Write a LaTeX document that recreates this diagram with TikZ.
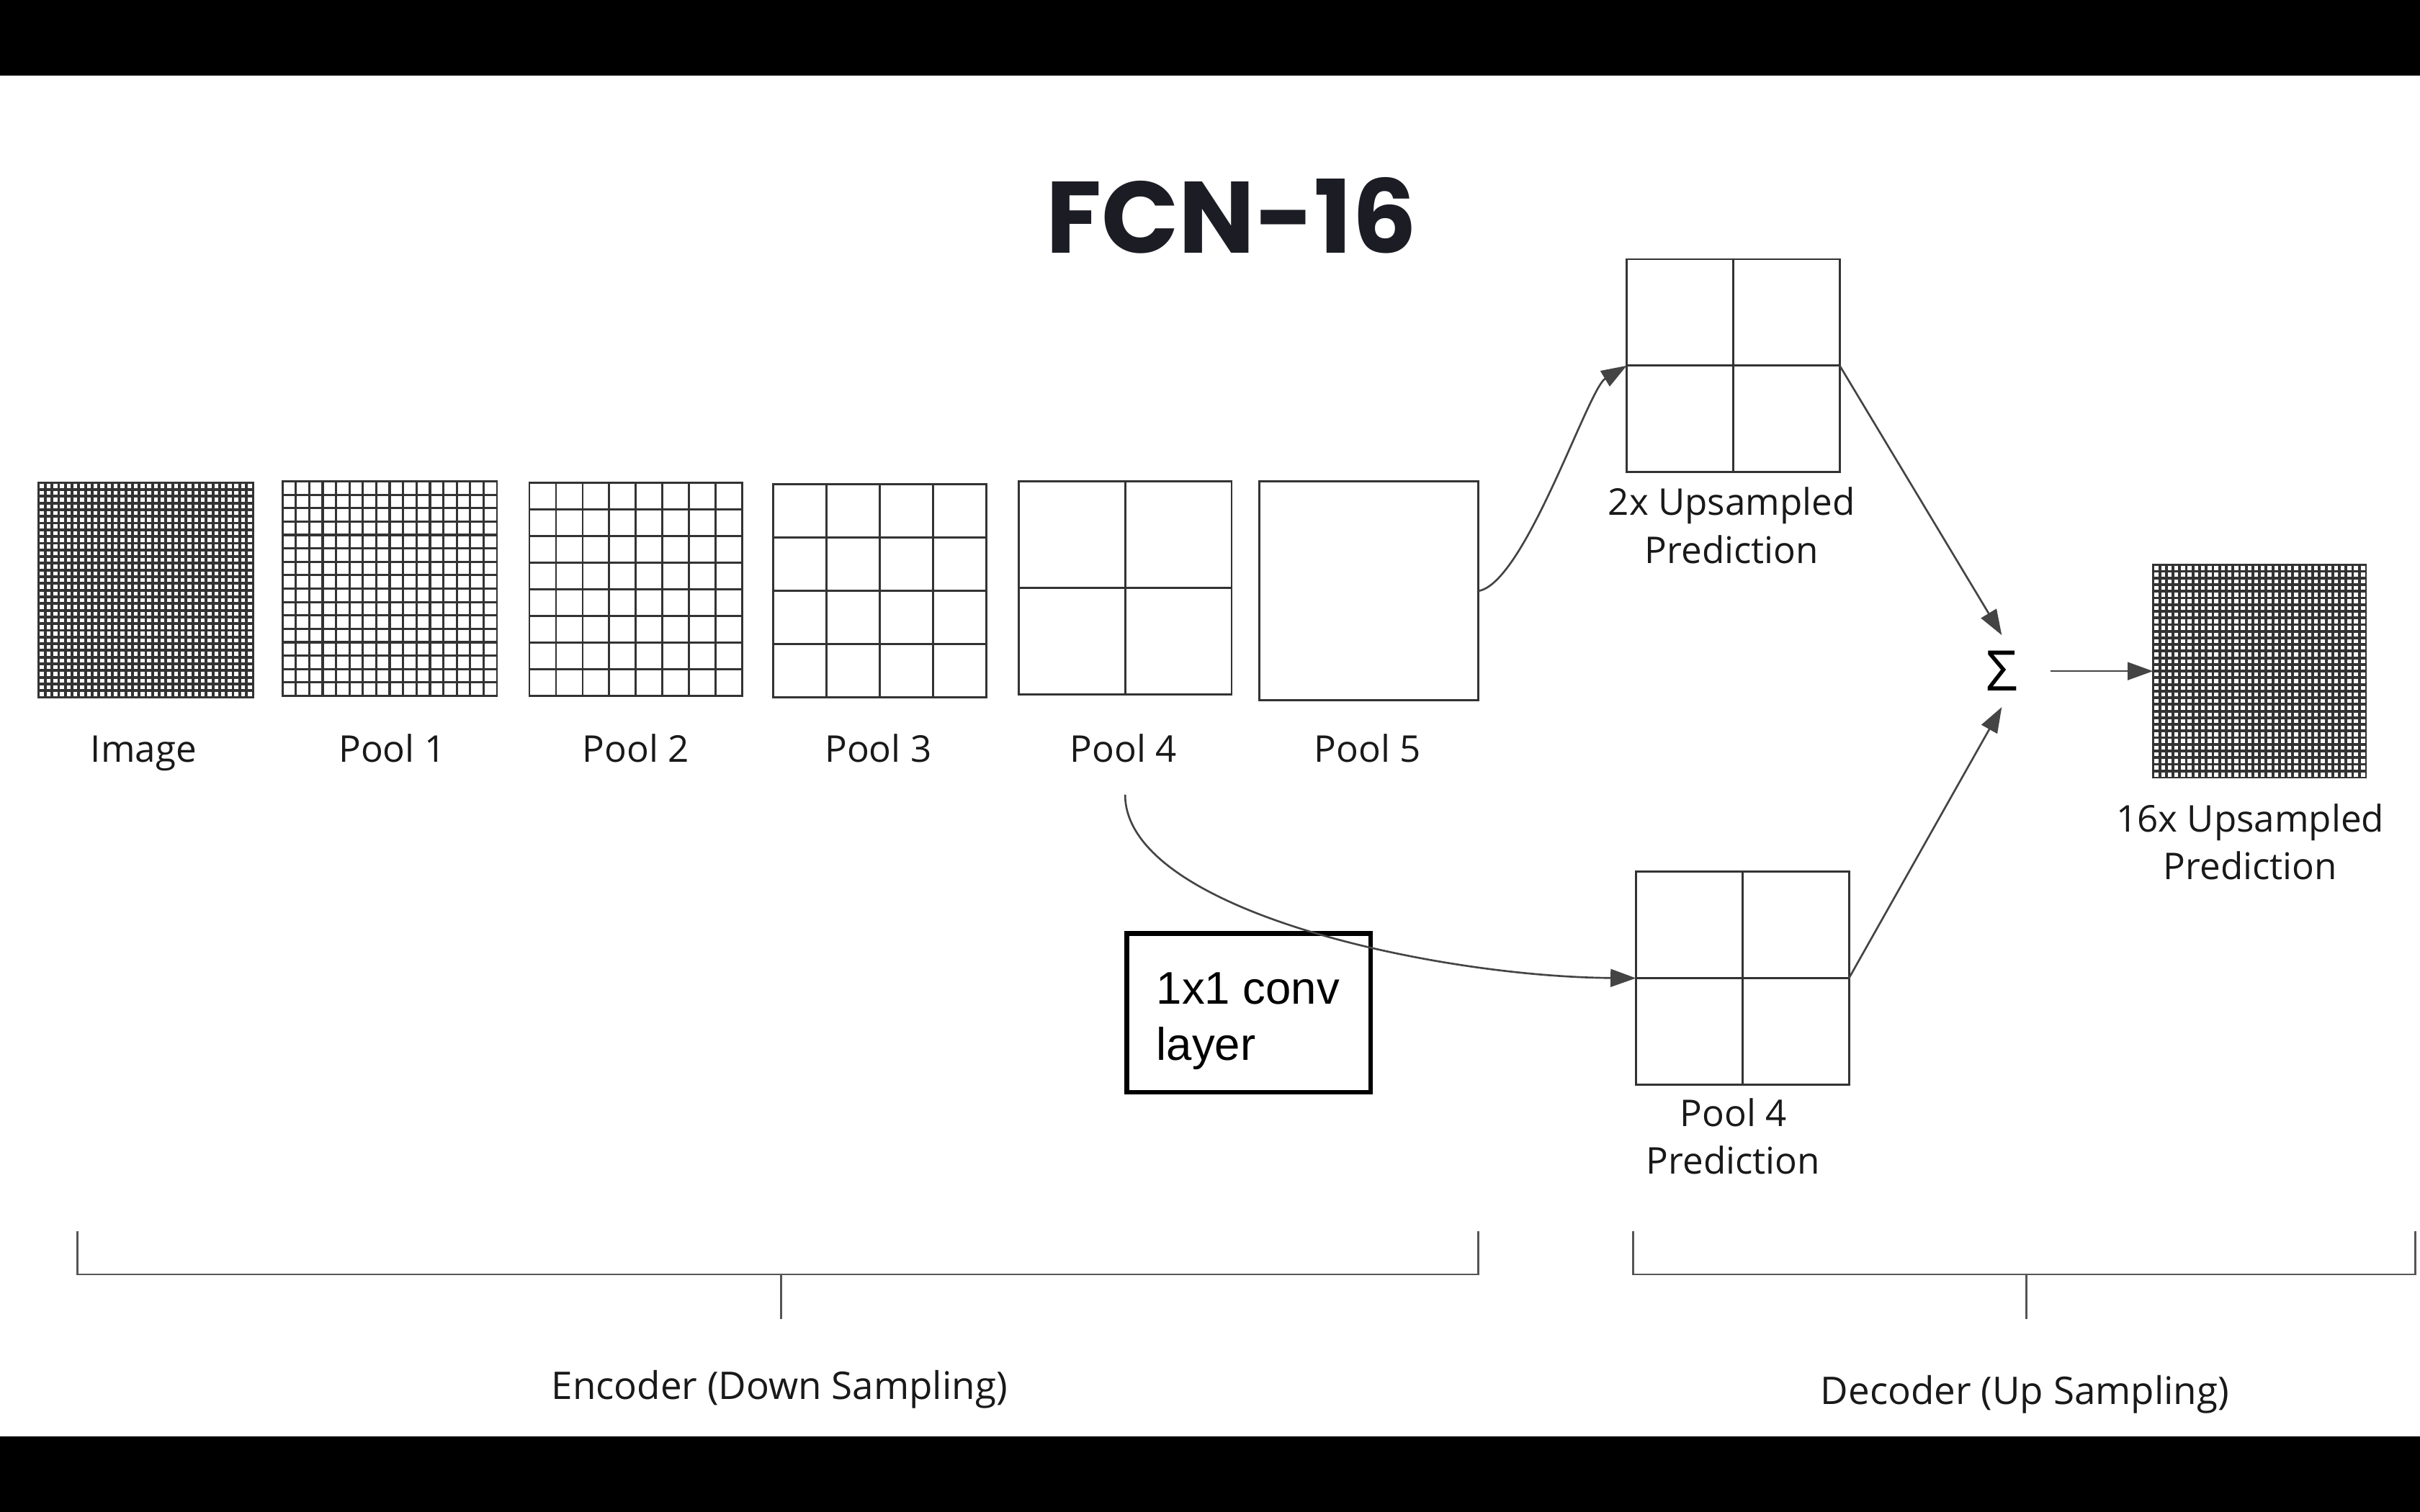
\documentclass[tikz,border=0pt]{standalone}
\usepackage{fontspec}
\setmainfont{Open Sans}
\newfontfamily\titlefont{Poppins}
\newfontfamily\arialfont{Liberation Sans}
\usetikzlibrary{arrows.meta}
\definecolor{gridc}{HTML}{333333}
\definecolor{connc}{HTML}{444444}
\definecolor{brc}{HTML}{555555}
\definecolor{titlec}{HTML}{1C1C25}
\tikzset{
  gridbox/.style={draw=gridc, line width=0.8pt, inner sep=0pt, outer sep=0pt},
  gridline/.style={draw=gridc, line width=0.8pt},
  lab/.style={font=\fontsize{14.5}{18.8}\selectfont, text=black!90, anchor=base, align=center, inner sep=0pt},
  biglab/.style={lab, font=\fontsize{15}{18.8}\selectfont},
  conn/.style={draw=connc, line width=0.75pt, -{Triangle[length=10pt,width=7pt]}},
  bracket/.style={draw=brc, line width=0.8pt},
}
\newcommand\fcngrid[6]{% name, left, top, size, n, inner line width
  \node[gridbox, minimum width={#4*0.6075pt}, minimum height={#4*0.6075pt}] (#1) at ({#2+#4/2},{#3+#4/2}) {};
  \ifnum#5>1
    \pgfmathtruncatemacro\nmone{#5-1}
    \foreach \k in {1,...,\nmone}{
      \draw[gridline, line width=#6] ({#2+\k*#4/#5},#3) -- ({#2+\k*#4/#5},{#3+#4});
      \draw[gridline, line width=#6] (#2,{#3+\k*#4/#5}) -- ({#2+#4},{#3+\k*#4/#5});
    }
  \fi
}
\begin{document}
\begin{tikzpicture}[x=0.6075pt, y=-0.6075pt]
\useasboundingbox (0,0) rectangle (1568,980);
\fill[white] (0,0) rectangle (1568,980);
\fill[black] (0,0) rectangle (1568,49);
\fill[black] (0,931) rectangle (1568,980);

\node[font=\titlefont\bfseries\fontsize{40}{48}\selectfont, text=titlec, anchor=base, inner sep=0pt] (title) at (798,164) {FCN-16};

\fcngrid{img}{25}{313}{139}{32}{1.1pt}
\fcngrid{p1}{183}{312}{139}{16}{0.9pt}
\fcngrid{p2}{343}{313}{138}{8}{0.8pt}
\fcngrid{p3}{501}{314}{138}{4}{0.8pt}
\fcngrid{p4}{660}{312}{138}{2}{0.8pt}
\fcngrid{p5}{816}{312}{142}{1}{0.8pt}
\fcngrid{up2}{1054}{168}{138}{2}{0.8pt}
\fcngrid{pp4}{1060}{565}{138}{2}{0.8pt}
\fcngrid{out}{1395}{366}{138}{32}{1.1pt}

\node[lab] (limg) at (93,494) {Image};
\node[lab] (lp1) at (254,494) {Pool 1};
\node[lab] (lp2) at (412,494) {Pool 2};
\node[lab] (lp3) at (569,494) {Pool 3};
\node[lab] (lp4) at (728,494) {Pool 4};
\node[lab] (lp5) at (886,494) {Pool 5};
\node[lab] (lup2) at (1122,365) {2x Upsampled\\Prediction};
\node[lab] (lpp4) at (1123,761) {Pool 4\\Prediction};
\node[lab] (lout) at (1458,570) {16x Upsampled\\Prediction};

\node[draw=black, line width=1.9pt, minimum width={158*0.6075pt}, minimum height={103*0.6075pt}, inner sep=0pt] (conv) at (809,656.5) {};
\node[font=\arialfont\fontsize{18}{22}\selectfont, anchor=base west, align=left, inner sep=0pt] (convtxt) at (749,687) {1x1 conv\\layer};

\node[font=\fontsize{22}{24}\selectfont, text=black, minimum width={46*0.6075pt}, minimum height={46*0.6075pt}, inner sep=0pt] (sum) at (1297,435) {Σ};

\coordinate (c4) at (729,515);
\draw[conn] (p5.east) .. controls +(30,-5) and +(-25,15) .. (up2.west);
\draw[conn] (c4) .. controls (729,590) and (930,633) .. (pp4.west);
\draw[conn] (up2.east) -- (sum.north);
\draw[conn] (pp4.east) -- (sum.south);
\draw[conn, shorten <=5pt] (sum.east) -- (out.west);

\draw[bracket] (50,798) -- (50,826) -- (958,826) -- (958,798);
\draw[bracket] (506,826) -- (506,855);
\draw[bracket] (1058,798) -- (1058,826) -- (1565,826) -- (1565,798);
\draw[bracket] (1313,826) -- (1313,855);
\node[biglab] (lenc) at (505,907) {Encoder (Down Sampling)};
\node[biglab] (ldec) at (1312,910) {Decoder (Up Sampling)};
\end{tikzpicture}
\end{document}
